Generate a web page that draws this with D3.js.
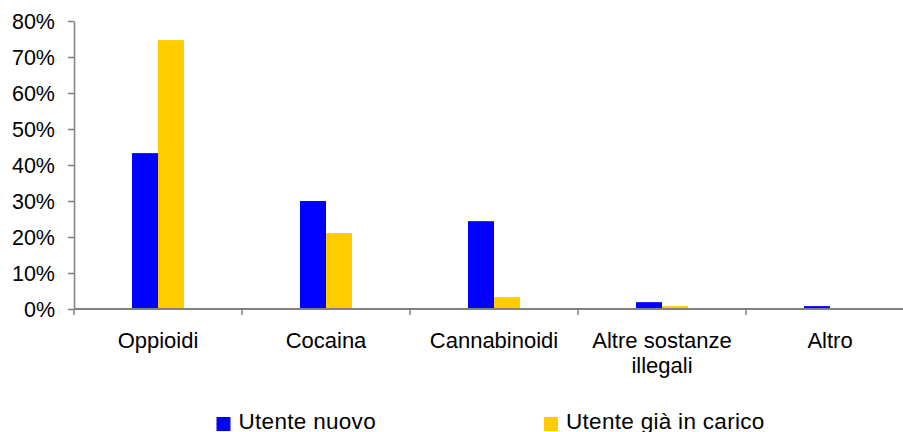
<!DOCTYPE html>
<html>
<head>
<meta charset="utf-8">
<script src="https://cdn.jsdelivr.net/npm/d3@7"></script>
<style>
  html, body { margin: 0; padding: 0; background: #fff; }
  svg { display: block; font-family: "Liberation Sans", Arial, sans-serif; }
</style>
</head>
<body>
<svg id="chart" width="903" height="432"></svg>
<script>
const categories = [["Oppioidi"], ["Cocaina"], ["Cannabinoidi"], ["Altre sostanze", "illegali"], ["Altro"]];
const seriesNames = ["Utente nuovo", "Utente già in carico"];
const utenteNuovo = [43.3, 30.0, 24.4, 1.9, 0.8];
const utenteGiaInCarico = [74.7, 21.1, 3.3, 0.8, 0];
const yTicks = [0, 10, 20, 30, 40, 50, 60, 70, 80];
const colors = ["#0000ff", "#ffcc00"];

const svg = d3.select("#chart");
const x0 = 74, x1 = 914, yTop = 21, yBot = 309;

const catIdx = d3.range(categories.length);
const x = d3.scaleBand().domain(catIdx).range([x0, x1]).paddingInner(0).paddingOuter(0);
const y = d3.scaleLinear().domain([0, 80]).range([yBot, yTop]);
const barW = 26;
const xs = d3.scaleBand().domain([0, 1]).range([x.bandwidth() / 2 - barW, x.bandwidth() / 2 + barW]);

const series = [utenteNuovo, utenteGiaInCarico];

// bars
series.forEach((vals, si) => {
  svg.append("g").selectAll("rect").data(vals).join("rect")
    .attr("x", (d, i) => x(i) + xs(si))
    .attr("width", xs.bandwidth())
    .attr("y", d => y(d))
    .attr("height", d => yBot - y(d))
    .attr("fill", colors[si]);
});

// y axis
const yAxis = d3.axisLeft(y).tickValues(yTicks).tickSize(6).tickSizeOuter(0).tickFormat(d => d + "%");
const gy = svg.append("g").attr("transform", `translate(${x0},0)`).call(yAxis);
gy.select(".domain").attr("stroke", "#808080").attr("stroke-width", 1.5);
gy.selectAll(".tick line").attr("stroke", "#808080").attr("stroke-width", 1.5);
gy.selectAll(".tick text").attr("font-size", 21.5).attr("fill", "#000")
  .attr("font-family", "Liberation Sans, Arial, sans-serif").attr("x", -19).attr("dy", "0.36em");

// x axis
const gx = svg.append("g").attr("transform", `translate(0,${yBot})`);
gx.append("line").attr("x1", x0).attr("x2", x1).attr("y1", 0).attr("y2", 0)
  .attr("stroke", "#808080").attr("stroke-width", 2);
gx.selectAll("line.tk").data(d3.range(categories.length + 1)).join("line").attr("class", "tk")
  .attr("x1", i => x0 + i * x.step()).attr("x2", i => x0 + i * x.step())
  .attr("y1", 0).attr("y2", 6).attr("stroke", "#808080").attr("stroke-width", 1.5);

// category labels
const lbl = svg.append("g").selectAll("text").data(categories).join("text")
  .attr("text-anchor", "middle")
  .attr("font-size", 22)
  .attr("fill", "#000");
lbl.each(function(lines, i) {
  const t = d3.select(this);
  lines.forEach((ln, j) => {
    t.append("tspan").attr("x", x(i) + x.bandwidth() / 2).attr("y", 348 + j * 25).text(ln);
  });
});

// legend
const legendX = [216.5, 544];
const lg = svg.append("g").selectAll("g").data(seriesNames).join("g")
  .attr("transform", (d, i) => `translate(${legendX[i]},0)`);
lg.append("rect").attr("x", 0).attr("y", 417).attr("width", 14).attr("height", 14)
  .attr("fill", (d, i) => colors[i]);
lg.append("text").attr("x", 22).attr("y", 428.5).attr("font-size", 22.5)
  .attr("letter-spacing", 0.3).attr("fill", "#000").text(d => d);
</script>
</body>
</html>
